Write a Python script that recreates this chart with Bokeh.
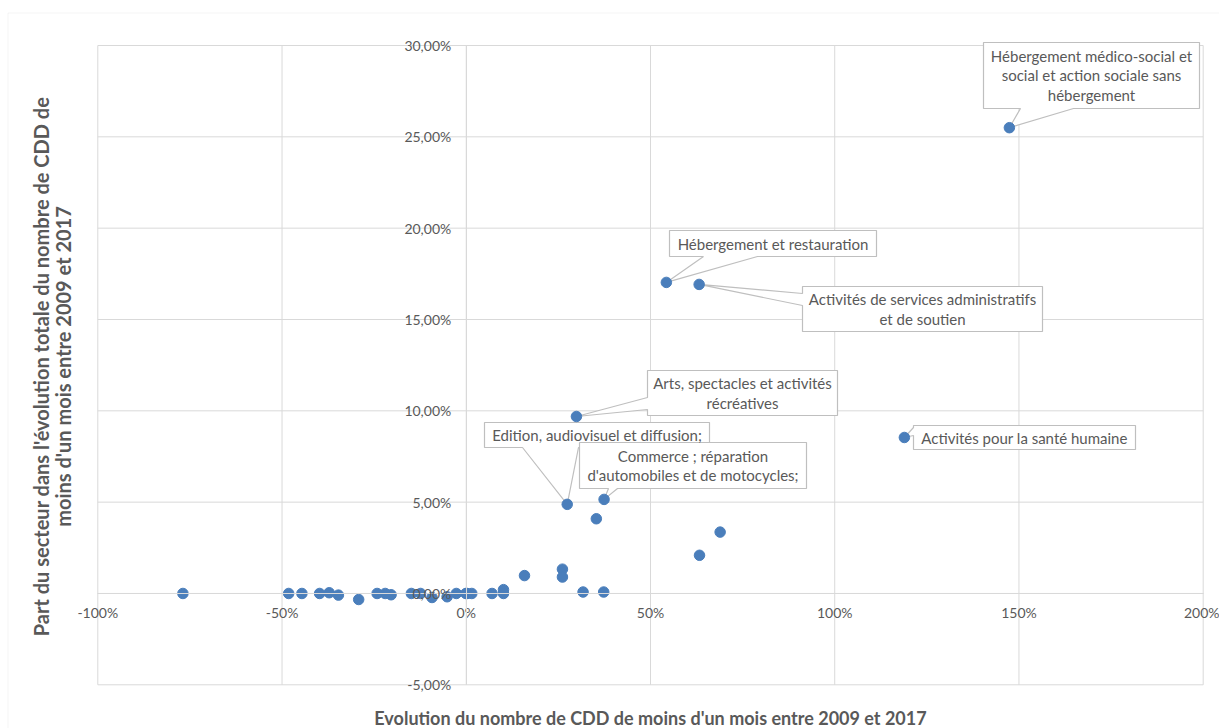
import math
from bokeh.plotting import figure
from bokeh.models import (Range1d, FixedTicker, CustomJSTickFormatter, Label,
                          BoxAnnotation)
from bokeh.core.properties import value
from bokeh.embed import file_html
from bokeh.resources import INLINE

# ---------------- data (values in %) ----------------
# labelled sectors
named_sectors = [
    "Hébergement médico-social et\nsocial et action sociale sans\nhébergement",
    "Hébergement et restauration",
    "Activités de services administratifs\net de soutien",
    "Arts, spectacles et activités\nrécréatives",
    "Activités pour la santé humaine",
    "Edition, audiovisuel et diffusion;",
    "Commerce ; réparation\nd'automobiles et de motocycles;",
]
named_x = [147.4, 54.3, 63.2, 29.9, 118.9, 27.4, 37.4]
named_y = [25.5, 17.03, 16.92, 9.69, 8.54, 4.88, 5.15]

# other sectors (not labelled)
other_x = [35.3, 68.9, 63.3, 15.8, 26.1, 26.1, 31.7, 37.3, 10.1, 10.1, 7.0,
           1.5, 0.2, -0.1, -2.7, -5.2, -9.3, -12.4, -14.9, -20.4, -22.0,
           -24.2, -29.2, -34.7, -37.2, -39.8, -44.6, -48.2, -76.9]
other_y = [4.09, 3.36, 2.09, 0.98, 1.33, 0.90, 0.08, 0.08, 0.21, 0.0, 0.0,
           0.0, 0.0, 0.0, 0.0, -0.18, -0.22, 0.0, 0.0, -0.07, 0.0,
           0.0, -0.33, -0.09, 0.04, 0.0, 0.0, 0.0, 0.0]

x_ticks = [-100, -50, 0, 50, 100, 150, 200]
y_ticks = [-5, 0, 5, 10, 15, 20, 25, 30]

x_title = "Evolution du nombre de CDD de moins d'un mois entre 2009 et 2017"
y_title_lines = ["Part du secteur dans l'évolution totale du nombre de CDD de",
                 "moins d'un mois entre 2009 et 2017"]

# ---------------- layout (canvas pixels) ----------------
W, H = 1219, 728
PL, PR, PT, PB = 97.3, 1202.7, 45.0, 684.3      # plot area
XMIN, XMAX, YMIN, YMAX = x_ticks[0], x_ticks[-1], y_ticks[0], y_ticks[-1]
SX = (PR - PL) / (XMAX - XMIN)
SY = (PB - PT) / (YMAX - YMIN)
GRAY_TXT = "#595959"
GRID = "#d9d9d9"
FONT = "Lato"


def to_data(X, Y):
    """canvas pixel -> data coordinates"""
    return XMIN + (X - PL) / SX, YMAX - (Y - PT) / SY


x0d, y1d = to_data(0, 0)
x1d, y0d = to_data(W, H)

p = figure(width=W, height=H, output_backend="svg", toolbar_location=None,
           x_range=Range1d(x0d, x1d), y_range=Range1d(y0d, y1d),
           min_border=0, min_border_left=0, min_border_right=0,
           min_border_top=0, min_border_bottom=0)
p.outline_line_color = None
p.background_fill_color = "white"
p.border_fill_color = "white"
p.xgrid.visible = False
p.ygrid.visible = False

# grid lines of the plot area (from the tick lists)
p.segment(x0=x_ticks, y0=[YMIN] * len(x_ticks), x1=x_ticks,
          y1=[YMAX] * len(x_ticks), line_color=GRID, line_width=1,
          level="underlay")
p.segment(x0=[XMIN] * len(y_ticks), y0=y_ticks, x1=[XMAX] * len(y_ticks),
          y1=y_ticks, line_color=GRID, line_width=1, level="underlay")

p.xaxis.ticker = FixedTicker(ticks=x_ticks)
p.yaxis.ticker = FixedTicker(ticks=y_ticks)
p.xaxis.formatter = CustomJSTickFormatter(code="return tick.toFixed(0) + '%';")
p.yaxis.formatter = CustomJSTickFormatter(
    code="return tick.toFixed(2).replace('.', ',') + '%';")
p.xaxis.bounds = (XMIN, XMAX)
p.yaxis.bounds = (YMIN, YMAX)
for ax in (p.xaxis, p.yaxis):
    ax.fixed_location = 0
    ax.axis_line_color = GRID
    ax.major_tick_line_color = None
    ax.minor_tick_line_color = None
    ax.major_tick_in = 0
    ax.major_tick_out = 0
    ax.minor_tick_out = 0
    ax.major_label_text_font = FONT
    ax.major_label_text_font_size = "14px"
    ax.major_label_text_color = GRAY_TXT
p.xaxis.major_label_standoff = 11
p.yaxis.major_label_standoff = 15

# outer chart border
bl, bt = to_data(7.5, 12.5)
p.add_layout(BoxAnnotation(left=bl, right=x1d + 50, top=bt, bottom=y0d - 50,
                           fill_color=None, line_color=GRID, line_width=1,
                           level="underlay"))

# ---------------- callouts ----------------
# box (x0, y0, x1, y1) in canvas px, tail side, tail base along that edge
callouts = [
    ((983, 42, 1199, 108), "bottom", (1020, 1073)),
    ((669, 230, 876, 256), "bottom", (703, 757)),
    ((802, 286, 1042, 331), "left", (293, 305)),
    ((647, 370, 837, 415), "left", (397, 409)),
    ((913, 425, 1135, 449), "left", (427, 435)),
    ((484, 422, 709, 447), "bottom", (522, 578)),
    ((579, 442, 806, 488), "bottom", (608, 617)),
]

xs_list, ys_list, tx, ty = [], [], [], []
for (box, side, base), px_, py_ in zip(callouts, named_x, named_y):
    bx0, by0, bx1, by1 = box
    pts = [to_data(bx0, by0), to_data(bx1, by0), to_data(bx1, by1)]
    if side == "bottom":
        pts += [to_data(base[1], by1), (px_, py_), to_data(base[0], by1)]
    pts.append(to_data(bx0, by1))
    if side == "left":
        pts += [to_data(bx0, base[1]), (px_, py_), to_data(bx0, base[0])]
    xs_list.append([q[0] for q in pts])
    ys_list.append([q[1] for q in pts])
    c = to_data((bx0 + bx1) / 2, (by0 + by1) / 2)
    tx.append(c[0])
    ty.append(c[1])

p.patches(xs=xs_list, ys=ys_list, fill_color="white", line_color="#bfbfbf",
          line_width=1.2)
p.text(x=tx, y=ty, text=named_sectors, text_align="center",
       text_baseline="middle", text_font=value(FONT), text_font_size="15px",
       text_color=GRAY_TXT, text_line_height=1.1)

# ---------------- points ----------------
p.scatter(x=other_x + named_x, y=other_y + named_y, size=10.5,
          fill_color="#4a7ebb", line_color="#4a7ebb")

# ---------------- axis titles ----------------
xt_pos = to_data(650, 717)
p.add_layout(Label(x=xt_pos[0], y=xt_pos[1], text=x_title, text_align="center",
                   text_baseline="middle", text_font=FONT,
                   text_font_size="18px", text_font_style="bold",
                   text_color=GRAY_TXT))
for line, X in zip(y_title_lines, (40, 62)):
    pos = to_data(X, 366)
    p.add_layout(Label(x=pos[0], y=pos[1], text=line, angle=math.pi / 2,
                       text_align="center", text_baseline="middle",
                       text_font=FONT, text_font_size="20px",
                       text_font_style="bold", text_color=GRAY_TXT))

open("out.html", "w").write(file_html(p, INLINE))
